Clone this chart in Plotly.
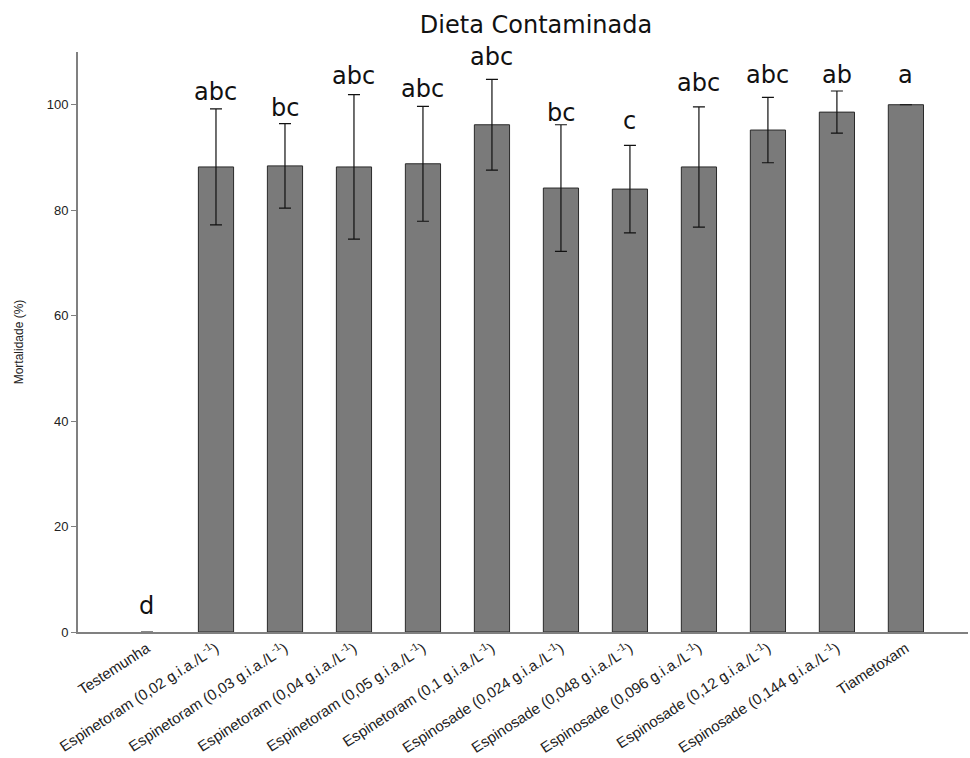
import plotly.graph_objects as go

categories = [
    "Testemunha",
    "Espinetoram (0,02 g.i.a./L<sup>-1</sup>)",
    "Espinetoram (0,03 g.i.a./L<sup>-1</sup>)",
    "Espinetoram (0,04 g.i.a./L<sup>-1</sup>)",
    "Espinetoram (0,05 g.i.a./L<sup>-1</sup>)",
    "Espinetoram (0,1 g.i.a./L<sup>-1</sup>)",
    "Espinosade (0,024 g.i.a./L<sup>-1</sup>)",
    "Espinosade (0,048 g.i.a./L<sup>-1</sup>)",
    "Espinosade (0,096 g.i.a./L<sup>-1</sup>)",
    "Espinosade (0,12 g.i.a./L<sup>-1</sup>)",
    "Espinosade (0,144 g.i.a./L<sup>-1</sup>)",
    "Tiametoxam",
]
mortality = [0, 88.2, 88.4, 88.2, 88.8, 96.2, 84.2, 84.0, 88.2, 95.2, 98.6, 100.0]
errors = [0, 11.0, 8.0, 13.7, 10.9, 8.6, 12.0, 8.3, 11.4, 6.2, 4.0, 0.0]
letters = ["d", "abc", "bc", "abc", "abc", "abc", "bc", "c", "abc", "abc", "ab", "a"]
letter_y = [4.9, 102.5, 99.4, 105.5, 103.0, 109.1, 98.5, 96.9, 104.2, 105.7, 105.7, 105.7]

x = list(range(len(categories)))
line_widths = [0 if v == 0 else 1 for v in mortality]

fig = go.Figure()
fig.add_trace(go.Bar(
    x=x, y=mortality,
    width=0.51,
    marker=dict(color="#7a7a7a", line=dict(color="#2a2a2a", width=line_widths)),
    error_y=dict(type="data", array=errors, visible=True, color="#111111",
                 thickness=1.2, width=6),
    showlegend=False,
))

for xi, lab, ly in zip(x, letters, letter_y):
    fig.add_annotation(x=xi, y=ly, text=lab, showarrow=False, xref="x", yref="y",
                       yanchor="middle", font=dict(family="DejaVu Sans", size=24, color="#111111"))

fig.update_layout(
    width=970, height=758,
    margin=dict(l=78, r=2, t=52, b=126),
    paper_bgcolor="white", plot_bgcolor="white",
    title=dict(text="Dieta Contaminada", x=0.5526, xanchor="center", y=0.967, yanchor="middle",
               font=dict(family="DejaVu Sans", size=24, color="#111111")),
    font=dict(family="Liberation Sans, Arial", color="#222222"),
)
fig.update_xaxes(
    range=[-1, 11.9], tickmode="array", tickvals=x, ticktext=categories,
    tickangle=-33, tickfont=dict(size=15, family="Liberation Sans, Arial", color="#222222"),
    showline=True, linecolor="#808080", linewidth=2, ticks="", showgrid=False, zeroline=False,
)
fig.update_yaxes(
    range=[0, 110], tickvals=[0, 20, 40, 60, 80, 100],
    tickfont=dict(size=13, family="Liberation Sans, Arial", color="#222222"),
    ticks="outside", ticklen=5, tickcolor="#808080", tickwidth=1,
    showline=True, linecolor="#808080", linewidth=2, showgrid=False, zeroline=False,
    title=dict(text="Mortalidade (%)", font=dict(size=12, family="Liberation Sans, Arial", color="#222222"), standoff=20),
)

fig.write_html("out.html")
